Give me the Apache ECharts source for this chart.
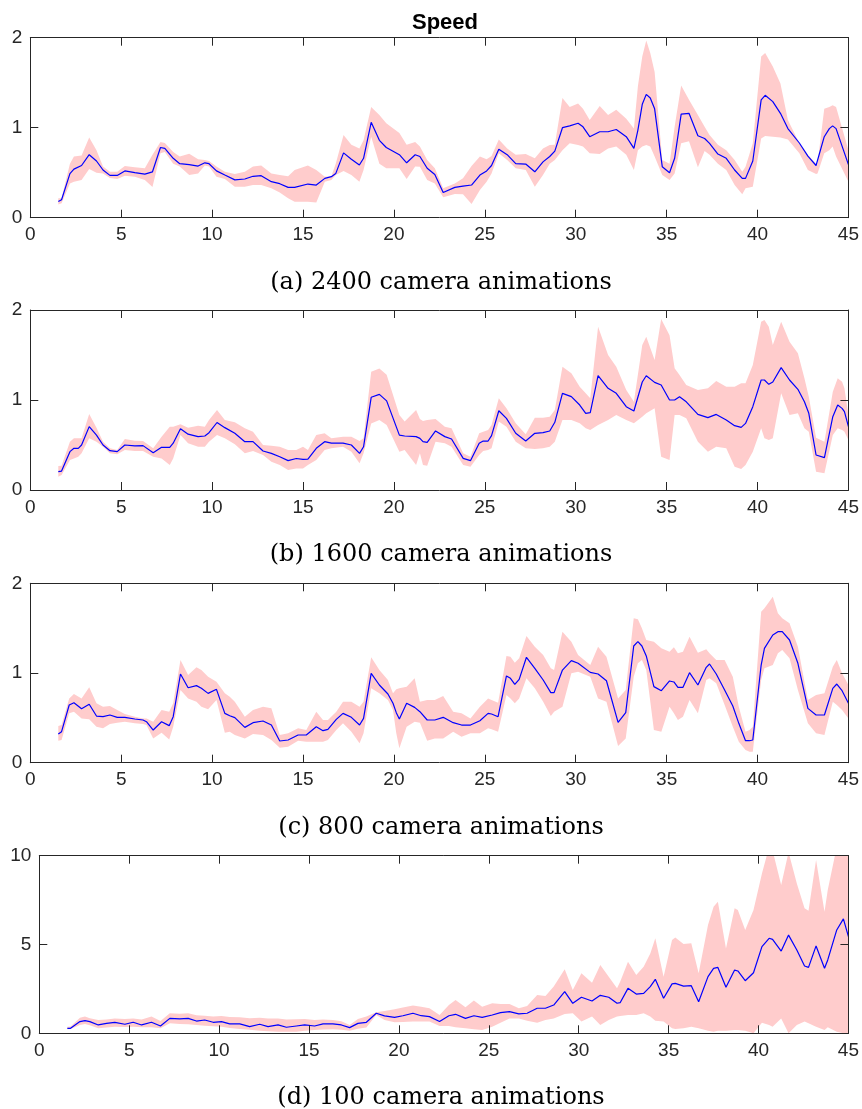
<!DOCTYPE html>
<html><head><meta charset="utf-8">
<script src="https://cdn.jsdelivr.net/npm/echarts@6/dist/echarts.min.js"></script>
<style>html,body{margin:0;padding:0;background:#fff}#c{width:862px;height:1109px}</style>
</head><body><div id="c"></div>
<script>
// ---------- DATA ----------
const xTickStep = 5;
const captions = ['(a) 2400 camera animations','(b) 1600 camera animations','(c) 800 camera animations','(d) 100 camera animations'];
const chartTitle = 'Speed';

// Panel (a) 2400
const x1 = [1.54,1.72,2.18,2.4,2.82,3.24,3.64,4.0,4.38,4.78,5.2,5.75,6.3,6.72,7.16,7.4,7.86,8.22,8.74,9.23,9.6,9.83,10.24,10.7,11.25,11.8,12.25,12.7,13.26,13.72,14.18,14.54,15.27,15.73,16.2,16.56,16.8,17.23,17.66,18.1,18.33,18.75,19.2,19.58,20.3,20.7,21.17,
 21.43,21.83,22.25,22.71,23.35,23.8,24.27,24.73,25.1,25.37,25.77,26.23,26.7,27.25,27.75,28.2,28.57,28.85,29.27,29.67,30.13,30.4,30.77,31.32,31.78,32.23,32.78,33.2,33.42,33.66,33.88,34.1,34.34,34.76,35.16,35.44,35.8,36.23,36.72,37.09,37.36,37.82,38.28,38.74,39.16,39.34,39.74,40.2,40.42,40.84,41.26,41.67,42.3,42.77,43.22,43.3,43.67,43.95,44.13,44.32,45.0];
const mean1 = [0.18,0.20,0.49,0.54,0.58,0.70,0.63,0.53,0.47,0.47,0.52,0.50,0.485,0.51,0.78,0.77,0.66,0.60,0.59,0.574,0.61,0.60,0.52,0.474,0.42,0.43,0.46,0.467,0.40,0.378,0.337,0.337,0.374,0.363,0.437,0.456,0.49,0.72,0.65,0.585,0.66,1.06,0.86,0.78,0.70,0.61,0.70,
 0.68,0.55,0.48,0.28,0.337,0.35,0.363,0.474,0.52,0.58,0.76,0.70,0.60,0.596,0.51,0.62,0.68,0.74,1.0,1.02,1.05,1.01,0.90,0.955,0.955,0.98,0.90,0.77,0.974,1.26,1.37,1.33,1.21,0.567,0.50,0.66,1.15,1.16,0.91,0.88,0.826,0.707,0.66,0.53,0.437,0.437,0.63,1.31,1.36,1.29,1.16,0.99,0.83,0.685,0.58,0.567,0.90,0.99,1.02,0.99,0.59];
const lo1 = [0.148,0.16,0.38,0.40,0.42,0.54,0.50,0.49,0.44,0.43,0.467,0.455,0.42,0.34,0.715,0.73,0.60,0.57,0.474,0.49,0.58,0.57,0.455,0.43,0.344,0.344,0.363,0.363,0.326,0.28,0.215,0.178,0.178,0.17,0.40,0.42,0.474,0.52,0.474,0.40,0.53,0.90,0.60,0.55,0.55,0.43,0.57,
 0.567,0.42,0.38,0.226,0.263,0.26,0.152,0.307,0.40,0.49,0.715,0.64,0.55,0.53,0.344,0.474,0.60,0.64,0.75,0.826,0.807,0.79,0.715,0.707,0.77,0.79,0.70,0.53,0.75,0.79,0.807,0.79,0.68,0.474,0.42,0.49,0.826,0.85,0.56,0.74,0.70,0.60,0.53,0.363,0.26,0.326,0.344,0.88,0.907,0.90,0.89,0.87,0.715,0.53,0.485,0.49,0.715,0.75,0.79,0.68,0.40];
const hi1 = [0.215,0.215,0.60,0.68,0.69,0.89,0.75,0.57,0.51,0.51,0.574,0.56,0.55,0.70,0.84,0.83,0.73,0.68,0.71,0.65,0.64,0.63,0.57,0.51,0.485,0.51,0.57,0.58,0.49,0.474,0.46,0.53,0.58,0.53,0.456,0.46,0.60,0.92,0.81,0.77,0.86,1.23,1.14,1.05,0.94,0.81,0.84,
 0.79,0.64,0.55,0.326,0.38,0.437,0.574,0.68,0.65,0.685,0.87,0.77,0.70,0.707,0.66,0.77,0.807,0.81,1.33,1.23,1.27,1.21,1.085,1.24,1.14,1.2,1.10,0.99,1.46,1.79,1.97,1.83,1.62,0.64,0.60,1.01,1.47,1.31,1.14,1.01,0.92,0.81,0.75,0.64,0.51,0.567,0.826,1.79,1.83,1.68,1.49,1.085,0.826,0.70,0.60,0.60,1.21,1.23,1.25,1.23,0.75];

// Panel (b) 1600
const x2 = [1.54,1.72,2.18,2.4,2.64,2.82,3.24,3.64,4.0,4.38,4.78,5.2,5.75,6.2,6.76,7.22,7.67,7.86,8.26,8.68,9.23,9.6,9.83,10.27,10.7,11.25,11.8,12.25,12.8,13.26,13.72,14.18,14.63,15.0,15.27,15.73,16.19,16.56,17.2,17.66,18.11,18.33,18.75,19.2,19.6,20.3,20.59,21.22,
 21.43,21.6,21.83,22.29,22.8,23.17,23.81,24.21,24.69,24.91,25.18,25.37,25.77,26.19,26.7,27.25,27.75,28.2,28.57,28.85,29.27,29.76,30.22,30.55,30.8,31.23,31.78,32.23,32.78,33.2,33.66,33.88,34.34,34.7,35.16,35.44,35.71,36.08,36.72,37.27,37.73,38.28,38.74,39.1,39.34,39.74,40.2,40.38,40.62,40.84,41.3,41.76,42.22,42.58,42.82,43.22,43.68,44.14,44.41,44.65,44.78,45.0];
const mean2 = [0.204,0.21,0.426,0.463,0.463,0.5,0.704,0.61,0.5,0.437,0.426,0.5,0.49,0.493,0.415,0.474,0.474,0.52,0.68,0.62,0.593,0.6,0.637,0.75,0.693,0.63,0.537,0.537,0.433,0.407,0.37,0.326,0.35,0.34,0.344,0.463,0.537,0.52,0.52,0.5,0.407,0.48,1.03,1.063,0.99,0.61,0.6,0.593,
 0.574,0.537,0.53,0.656,0.593,0.567,0.352,0.326,0.52,0.544,0.544,0.604,0.881,0.796,0.63,0.544,0.63,0.637,0.656,0.752,1.074,1.037,0.944,0.852,0.859,1.27,1.13,1.074,0.926,0.878,1.2,1.27,1.196,1.167,1.0,1.0,1.037,0.98,0.84,0.804,0.84,0.778,0.715,0.696,0.74,0.926,1.222,1.222,1.174,1.2,1.36,1.222,1.119,0.981,0.852,0.389,0.359,0.815,0.944,0.907,0.87,0.704];
const lo2 = [0.148,0.167,0.333,0.35,0.37,0.407,0.574,0.537,0.48,0.407,0.396,0.444,0.433,0.433,0.37,0.35,0.278,0.35,0.61,0.52,0.48,0.48,0.537,0.61,0.574,0.507,0.407,0.433,0.389,0.315,0.278,0.222,0.24,0.24,0.278,0.333,0.444,0.463,0.48,0.426,0.296,0.407,0.74,0.778,0.722,0.426,0.444,0.278,
 0.407,0.278,0.27,0.537,0.519,0.48,0.278,0.259,0.389,0.433,0.444,0.463,0.76,0.704,0.537,0.463,0.456,0.463,0.48,0.537,0.778,0.778,0.741,0.685,0.667,0.722,0.778,0.833,0.778,0.741,0.815,0.852,0.907,0.37,0.333,0.833,0.833,0.796,0.537,0.426,0.48,0.463,0.259,0.233,0.278,0.426,0.685,0.574,0.556,0.574,1.074,0.833,0.852,0.685,0.648,0.204,0.185,0.611,0.685,0.667,0.648,0.556];
const hi2 = [0.267,0.27,0.537,0.574,0.574,0.574,0.844,0.693,0.537,0.463,0.444,0.567,0.548,0.544,0.463,0.593,0.704,0.704,0.73,0.693,0.715,0.704,0.778,0.889,0.778,0.752,0.685,0.648,0.5,0.493,0.48,0.444,0.444,0.48,0.444,0.61,0.63,0.574,0.593,0.593,0.544,0.574,1.315,1.35,1.28,0.833,0.76,0.889,
 0.789,0.767,0.778,0.789,0.704,0.685,0.407,0.37,0.63,0.648,0.667,0.722,1.019,0.907,0.741,0.619,0.804,0.804,0.815,0.889,1.37,1.296,1.148,1.074,1.019,1.815,1.5,1.37,1.111,0.981,1.61,1.704,1.444,1.9,1.72,1.352,1.278,1.167,1.111,1.13,1.211,1.148,1.148,1.185,1.185,1.389,1.87,1.889,1.815,1.61,1.87,1.648,1.519,1.241,1.037,0.581,0.537,1.093,1.241,1.204,1.13,0.833];

// Panel (c) 800
const x3 = [1.54,1.72,2.14,2.4,2.82,3.24,3.64,4.0,4.38,4.78,5.2,5.75,6.2,6.39,6.76,7.22,7.64,7.86,8.26,8.68,9.14,9.41,9.78,10.24,10.7,10.97,11.25,11.8,12.25,12.8,13.26,13.72,14.18,14.73,15.18,15.73,16.1,16.37,16.83,17.2,17.66,18.11,18.33,18.75,19.2,19.67,19.95,20.13,20.3,20.7,21.14,
 21.43,21.83,22.25,22.71,23.26,23.72,24.21,24.73,25.18,25.37,25.73,26.19,26.41,26.65,26.89,27.29,27.75,28.21,28.63,28.81,29.27,29.76,30.13,30.8,31.23,31.69,32.33,32.75,33.19,33.42,33.64,33.88,34.3,34.71,35.16,35.4,35.62,35.9,36.26,36.72,37.18,37.36,37.73,38.19,38.64,38.97,39.34,39.56,39.74,40.2,40.38,40.84,41.12,41.36,41.76,42.22,42.77,43.22,43.68,44.14,44.36,44.65,45.0];
const mean3 = [0.32,0.346,0.643,0.669,0.602,0.651,0.52,0.513,0.532,0.506,0.506,0.487,0.476,0.457,0.364,0.457,0.413,0.513,0.989,0.836,0.859,0.829,0.773,0.818,0.55,0.524,0.502,0.394,0.446,0.465,0.42,0.242,0.253,0.309,0.309,0.401,0.357,0.372,0.483,0.55,0.506,0.42,0.494,0.996,0.866,0.766,0.662,0.558,0.487,0.662,0.617,
 0.569,0.476,0.476,0.506,0.446,0.42,0.42,0.468,0.55,0.543,0.513,0.967,0.941,0.874,0.929,1.175,1.052,0.922,0.781,0.781,1.033,1.138,1.108,1.007,0.989,0.914,0.45,0.558,1.301,1.349,1.301,1.19,0.848,0.803,0.911,0.9,0.84,0.84,1.004,0.866,1.063,1.1,0.989,0.81,0.632,0.439,0.245,0.245,0.253,1.089,1.275,1.424,1.461,1.461,1.368,1.108,0.606,0.532,0.532,0.829,0.877,0.803,0.662];
const lo3 = [0.245,0.253,0.55,0.569,0.494,0.483,0.401,0.383,0.431,0.446,0.457,0.439,0.431,0.42,0.271,0.335,0.26,0.401,0.81,0.717,0.68,0.625,0.595,0.699,0.335,0.346,0.309,0.271,0.32,0.309,0.253,0.167,0.178,0.245,0.234,0.234,0.234,0.253,0.364,0.439,0.346,0.216,0.327,0.829,0.773,0.699,0.587,0.327,0.16,0.401,0.457,
 0.446,0.245,0.271,0.271,0.346,0.29,0.327,0.327,0.383,0.372,0.346,0.755,0.717,0.662,0.717,0.941,0.829,0.68,0.52,0.569,0.625,0.996,1.015,0.959,0.717,0.68,0.186,0.271,0.959,1.108,1.145,1.033,0.364,0.346,0.625,0.55,0.476,0.513,0.699,0.55,0.922,0.941,0.885,0.643,0.401,0.234,0.141,0.123,0.123,0.922,1.052,1.089,1.219,1.257,1.164,0.81,0.439,0.327,0.309,0.68,0.643,0.587,0.494];
const hi3 = [0.409,0.42,0.717,0.766,0.717,0.84,0.662,0.625,0.632,0.587,0.543,0.513,0.494,0.494,0.457,0.587,0.569,0.662,1.145,0.978,1.063,1.033,0.959,0.903,0.773,0.736,0.68,0.513,0.587,0.625,0.606,0.309,0.327,0.383,0.364,0.569,0.476,0.476,0.569,0.68,0.68,0.625,0.68,1.175,1.033,0.922,0.773,0.818,0.829,0.848,0.941,
 0.68,0.699,0.699,0.743,0.569,0.55,0.494,0.625,0.717,0.699,0.669,1.19,1.182,1.115,1.164,1.413,1.294,1.201,1.052,1.033,1.461,1.349,1.201,1.089,1.294,1.182,0.717,0.81,1.61,1.599,1.498,1.368,1.349,1.275,1.238,1.286,1.219,1.238,1.405,1.227,1.264,1.219,1.145,1.145,0.959,0.625,0.346,0.364,0.401,1.684,1.721,1.851,1.666,1.61,1.554,1.294,0.699,0.755,0.773,1.071,1.145,0.996,0.866];

// Panel (d) 100
const x4 = [1.56,1.74,2.26,2.54,2.81,3.28,3.74,4.2,4.76,5.22,5.69,6.24,6.74,7.26,7.81,8.28,8.74,9.2,9.67,10.13,10.59,11.15,11.7,12.26,12.72,13.28,13.74,14.3,14.76,15.31,15.78,16.33,16.8,17.26,17.72,18.19,18.74,19.2,19.76,20.22,20.78,
 21.24,21.7,22.26,22.78,23.15,23.7,24.17,24.63,25.19,25.65,26.15,26.67,27.13,27.69,28.15,28.61,29.22,29.67,30.15,30.74,31.2,31.67,32.13,32.31,32.74,33.2,33.61,33.98,34.26,34.72,35.19,35.37,35.83,36.26,36.67,37.19,37.5,37.74,38.19,38.67,38.85,39.26,39.72,40.19,40.59,40.78,41.26,41.67,42.13,42.56,42.78,43.2,43.67,43.85,44.35,44.72,45.0];
const mean4 = [0.28,0.28,0.66,0.71,0.66,0.47,0.56,0.62,0.51,0.62,0.47,0.62,0.41,0.84,0.81,0.84,0.69,0.75,0.62,0.66,0.53,0.53,0.38,0.51,0.38,0.47,0.34,0.41,0.47,0.41,0.53,0.53,0.47,0.32,0.56,0.62,1.13,0.98,0.9,0.99,1.13,
 0.99,0.94,0.66,0.99,1.07,0.84,0.99,0.9,1.03,1.16,1.22,1.09,1.13,1.41,1.41,1.59,2.35,1.69,2.03,1.82,2.14,2.03,1.69,1.73,2.53,2.21,2.25,2.63,3.04,1.97,2.78,2.81,2.66,2.68,1.78,3.19,3.66,3.71,2.59,3.56,3.51,2.96,3.41,4.88,5.35,5.29,4.63,5.53,4.69,3.79,3.71,4.92,3.66,4.13,5.82,6.44,5.44];
const lo4 = [0.23,0.24,0.47,0.53,0.45,0.28,0.33,0.375,0.36,0.375,0.34,0.34,0.28,0.56,0.53,0.51,0.47,0.43,0.40,0.375,0.3,0.24,0.2,0.15,0.12,0.09,0.09,0.09,0.14,0.19,0.21,0.23,0.2,0.15,0.25,0.32,1.03,0.75,0.62,0.64,0.66,
 0.66,0.66,0.41,0.41,0.34,0.28,0.23,0.19,0.375,0.6,0.84,0.84,0.71,0.6,0.75,0.84,1.09,1.13,0.66,0.94,0.47,0.75,0.94,0.98,1.03,1.03,1.13,0.94,0.71,0.66,0.28,0.24,0.28,0.375,0.28,0.15,0.09,0.15,0.15,0.19,0.19,0.15,0,0.6,0.47,0.375,0.84,0,0.47,0.66,0.56,0.375,0.19,0.34,0.09,0,0];
const hi4 = [0.375,0.38,0.88,0.94,0.85,0.75,0.78,0.84,0.8,0.84,0.78,0.94,0.69,1.13,1.1,1.13,1.02,0.99,0.95,0.98,0.92,0.9,0.85,0.88,0.83,0.84,0.78,0.79,0.8,0.75,0.78,0.75,0.68,0.47,0.8,0.94,1.18,1.25,1.35,1.45,1.56,
 1.5,1.41,1.03,1.59,1.88,1.46,1.84,1.5,1.69,1.65,1.65,1.41,1.54,2.16,2.1,2.63,3.6,2.44,3.38,2.85,3.85,3.19,2.53,2.91,4.03,3.28,3.75,4.5,5.35,3.19,5.25,5.4,5.03,5.07,3.38,6.1,7.13,7.41,4.78,7.04,6.94,5.82,6.94,9.0,10.5,10.3,8.35,10.2,8.44,7.04,6.9,9.76,6.85,8.07,10.5,11,11];

const yMax = [2, 2, 2, 10];
const yStep = [1, 1, 1, 5];

// ---------- BUILD ----------
const panels = [
  {x:x1, m:mean1, lo:lo1, hi:hi1},
  {x:x2, m:mean2, lo:lo2, hi:hi2},
  {x:x3, m:mean3, lo:lo3, hi:hi3},
  {x:x4, m:mean4, lo:lo4, hi:hi4}
];
const layout = [
  {left:30.3, top:37.7, height:180},
  {left:30.3, top:310, height:180},
  {left:30.3, top:583.3, height:179.4},
  {left:39.3, top:855.7, height:177.6}
];
const captionTop = [266, 538, 811, 1081];
const AX = '#262626';
const FONT = 'Liberation Sans';
const grid=[], xAxis=[], yAxis=[], series=[];
const title = [{text:chartTitle, left:440, top:7, textAlign:'center',
  textStyle:{fontFamily:FONT, fontWeight:'bold', fontSize:22, color:'#000'}}];

panels.forEach((p,i)=>{
  const L = layout[i];
  grid.push({left:L.left, right:13, top:L.top, height:L.height});
  const tick = {show:true, inside:true, length:8, lineStyle:{color:AX, width:1}};
  const line = {show:true, onZero:false, lineStyle:{color:AX, width:1}};
  const lab = {color:AX, fontSize:19, fontFamily:FONT};
  xAxis.push({gridIndex:i, type:'value', min:0, max:45, interval:xTickStep, position:'bottom',
    axisLine:line, axisTick:tick, axisLabel:Object.assign({margin:8}, lab), splitLine:{show:false}, z:10});
  xAxis.push({gridIndex:i, type:'value', min:0, max:45, interval:xTickStep, position:'top',
    axisLine:line, axisTick:tick, axisLabel:{show:false}, splitLine:{show:false}, z:10});
  yAxis.push({gridIndex:i, type:'value', min:0, max:yMax[i], interval:yStep[i], position:'left',
    axisLine:line, axisTick:tick, axisLabel:Object.assign({margin:8}, lab), splitLine:{show:false}, z:10});
  yAxis.push({gridIndex:i, type:'value', min:0, max:yMax[i], interval:yStep[i], position:'right',
    axisLine:line, axisTick:tick, axisLabel:{show:false}, splitLine:{show:false}, z:10});
  const xi = 2*i, yi = 2*i;
  // shaded band: one polygon built from lo/hi arrays through the axis scales
  series.push({type:'custom', xAxisIndex:xi, yAxisIndex:yi, silent:true, clip:true, z:1,
    data:p.x.map((x,j)=>[x, p.lo[j], p.hi[j]]),
    encode:{x:0, y:[1,2]},
    renderItem:(params, api)=>{
      if (params.dataIndex !== 0) return null;
      const top = p.x.map((x,j)=>api.coord([x, p.hi[j]]));
      const bot = p.x.map((x,j)=>api.coord([x, p.lo[j]])).reverse();
      const cs = params.coordSys;
      return {type:'group', children:[{type:'polygon', shape:{points: top.concat(bot)}, style:{fill:'#ffcccc', stroke:null}}],
        clipPath:{type:'rect', shape:{x:cs.x, y:cs.y, width:cs.width, height:cs.height}}};
    }});
  series.push({type:'line', xAxisIndex:xi, yAxisIndex:yi, symbol:'none', silent:true, z:3,
    lineStyle:{color:'#0000ff', width:1.2}, data:p.x.map((x,j)=>[x, p.m[j]])});
  title.push({text:captions[i], left:436, top:captionTop[i], textAlign:'center',
    textStyle:{fontFamily:'DejaVu Serif', fontWeight:'normal', fontSize:24, color:'#000'}});
});

const chart = echarts.init(document.getElementById('c'), null, {renderer:'canvas'});
chart.setOption({animation:false, backgroundColor:'#fff', title, grid, xAxis, yAxis, series});
</script></body></html>
